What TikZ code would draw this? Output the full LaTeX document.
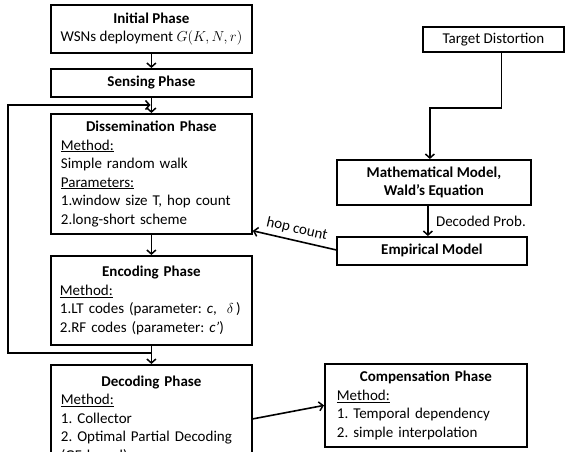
\documentclass[tikz,border=0pt]{standalone}
\usepackage{fontspec}
\setmainfont{Carlito}
\usetikzlibrary{positioning,arrows.meta}
\frenchspacing

\tikzset{
  phasebox/.style={draw, line width=1.8pt, anchor=north west, inner sep=0pt},
  listbox/.style={phasebox, align=left, inner xsep=10pt},
  flow/.style={-{Straight Barb[length=4pt,width=9pt,line width=1.5pt]}, line width=1.6pt},
}
\newcommand{\phasetitle}[1]{\makebox[\hsize]{\bfseries #1}}

\begin{document}
\begin{tikzpicture}[x=1pt,y=-1pt,every node/.style={font=\fontsize{15}{18.5}\selectfont}]
    \useasboundingbox (0,0) rectangle (565,452);
    \clip (0,0) rectangle (565,452);
    % left column
    \node[phasebox, minimum width=201pt, minimum height=48pt, align=center] (init) at (50,4)
        {\textbf{Initial Phase}\\WSNs deployment $G(K,N,r)$};
    \node[phasebox, minimum width=201pt, minimum height=28pt] (sense) at (50,68) {\textbf{Sensing Phase}};
    \node[listbox, text width=181pt, minimum height=120pt] (dissem) at (50,113)
        {\phasetitle{Dissemination Phase}\\\underline{Method:}\\Simple random walk\\\underline{Parameters:}\\
         1.window size T, hop count\\2.long-short scheme};
    \node[listbox, text width=183pt, inner xsep=9pt, minimum height=89pt] (enc) at (50,255)
        {\phasetitle{Encoding Phase}\\\underline{Method:}\\\mbox{1.LT codes (parameter: \textit{c}, ~$\delta$\,)}\\
         2.RF codes (parameter: \textit{c'})};
    \node[listbox, text width=181pt, inner xsep=10pt, minimum height=108pt] (dec) at (50,364)
        {\phasetitle{Decoding Phase}\\\underline{Method:}\\1. Collector\\\mbox{2. Optimal Partial Decoding}\\(GF based)};
    % right column
    \node[phasebox, minimum width=141pt, minimum height=25pt] (target) at (422,26) {Target Distortion};
    \node[phasebox, minimum width=194pt, minimum height=45pt, align=center] (math) at (336,159)
        {\textbf{Mathematical Model,}\\\textbf{Wald’s Equation}};
    \node[phasebox, minimum width=190pt, minimum height=28pt] (emp) at (336,236) {\textbf{Empirical Model}};
    \node[listbox, text width=178pt, inner xsep=12pt, minimum height=83pt] (comp) at (324,363)
        {\phasetitle{Compensation Phase}\\\underline{Method:}\\1. Temporal dependency\\2. simple interpolation};

    % connectors
    \draw[flow] (init) -- (sense);
    \draw[flow] (sense) -- (dissem);
    \draw[flow] (dissem) -- (enc);
    \draw[flow] (enc) -- (dec);
    \coordinate (loopout) at (150.5,353);
    \coordinate (loopcorner) at (8,353);
    \coordinate (loopin) at (150.5,105);
    \draw[flow] (loopout) -- (loopcorner) |- (loopin);
    \draw[flow] ([xshift=8pt]target.south) -- ++(0,55) -| ([xshift=-4pt]math.north);
    \draw[flow] ([xshift=-6pt]math.south) -- ([xshift=-6pt]math.south |- emp.north)
        node[midway, right=4pt] {Decoded Prob.};
    \draw[flow] ([yshift=1pt]emp.west) -- ([yshift=4pt]dissem.south east)
        node[midway, sloped, above=1pt] {hop count};
    \draw[flow] (dec.east) -- (comp.west);
\end{tikzpicture}
\end{document}
